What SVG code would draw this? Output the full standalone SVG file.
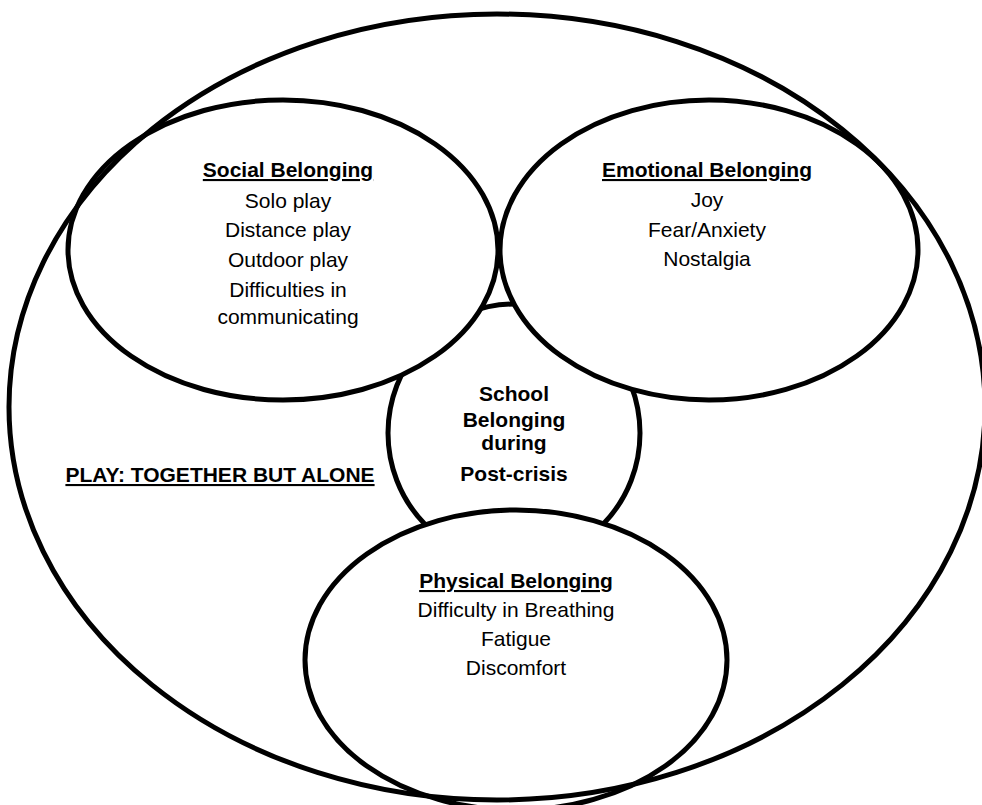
<svg xmlns="http://www.w3.org/2000/svg" width="982" height="805" viewBox="0 0 982 805">
<style>
.shape{fill:#fff;stroke:#000;stroke-width:5}
.outer{fill:none;stroke:#000;stroke-width:5}
text{font-family:"Liberation Sans",Arial,sans-serif;font-size:21px;fill:#000;text-anchor:middle}
.t{font-weight:bold;text-decoration:underline}
.b{font-weight:bold}
</style>
<rect width="982" height="805" fill="#fff"/>
<g id="school">
<ellipse class="shape" cx="514" cy="433" rx="126" ry="129"/>
<text class="b" x="514" y="401">School</text>
<text class="b" x="514" y="427">Belonging</text>
<text class="b" x="514" y="450">during</text>
<text class="b" x="514" y="481">Post-crisis</text>
</g>
<g id="social">
<ellipse class="shape" cx="283" cy="250" rx="215" ry="150"/>
<text class="t" x="288" y="177">Social Belonging</text>
<text x="288" y="207.5">Solo play</text>
<text x="288" y="237">Distance play</text>
<text x="288" y="266.5">Outdoor play</text>
<text x="288" y="296.5">Difficulties in</text>
<text x="288" y="324">communicating</text>
</g>
<g id="emotional">
<ellipse class="shape" cx="709" cy="250" rx="209" ry="150"/>
<text class="t" x="707" y="177">Emotional Belonging</text>
<text x="707" y="207">Joy</text>
<text x="707" y="237">Fear/Anxiety</text>
<text x="707" y="266">Nostalgia</text>
</g>
<g id="physical">
<ellipse class="shape" cx="516" cy="660" rx="211" ry="150"/>
<text class="t" x="516" y="588">Physical Belonging</text>
<text x="516" y="617">Difficulty in Breathing</text>
<text x="516" y="646">Fatigue</text>
<text x="516" y="675">Discomfort</text>
</g>
<g id="play">
<ellipse class="outer" cx="497" cy="407" rx="488" ry="393"/>
<text class="t" x="220" y="482">PLAY: TOGETHER BUT ALONE</text>
</g>
</svg>
